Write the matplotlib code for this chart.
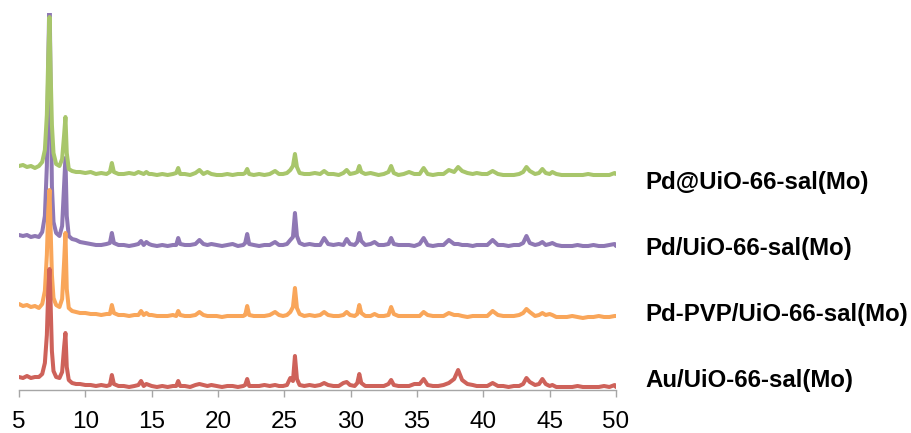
import numpy as np
import matplotlib.pyplot as plt

plt.rcParams['font.family'] = ['Liberation Sans', 'DejaVu Sans']

# 2-theta grid (deg) shared by all four patterns
two_theta = [
    5.0, 5.3, 5.6, 5.9, 6.2, 6.5, 6.75, 6.95, 7.1, 7.2,
    7.3, 7.38, 7.48, 7.6, 7.8, 8.05, 8.25, 8.4, 8.5, 8.6,
    8.75, 9.0, 9.3, 9.6, 10.0, 10.4, 10.8, 11.2, 11.6, 11.85,
    12.0, 12.15, 12.5, 12.9, 13.3, 13.7, 14.0, 14.2, 14.4, 14.6,
    14.8, 15.0, 15.4, 15.8, 16.2, 16.6, 16.85, 17.0, 17.15, 17.5,
    17.9, 18.3, 18.6, 18.9, 19.2, 19.5, 19.9, 20.3, 20.7, 21.1,
    21.5, 21.9, 22.05, 22.2, 22.35, 22.7, 23.1, 23.5, 23.9, 24.3,
    24.6, 24.9, 25.2, 25.45, 25.65, 25.8, 25.95, 26.15, 26.5, 26.9,
    27.3, 27.7, 28.0, 28.3, 28.7, 29.1, 29.45, 29.7, 29.95, 30.3,
    30.5, 30.65, 30.8, 31.1, 31.5, 31.8, 32.1, 32.5, 32.85, 33.05,
    33.25, 33.6, 34.0, 34.4, 34.8, 35.2, 35.5, 35.8, 36.2, 36.6,
    37.0, 37.4, 37.8, 38.1, 38.4, 38.8, 39.2, 39.5, 39.9, 40.3,
    40.7, 41.1, 41.5, 41.9, 42.3, 42.7, 43.0, 43.25, 43.5, 43.9,
    44.2, 44.45, 44.7, 45.0, 45.2, 45.5, 45.9, 46.3, 46.7, 47.1,
    47.5, 47.9, 48.3, 48.7, 49.1, 49.5, 49.9, 50.0,
]

pd_at = [
    9, 10, 8, 9, 7, 9, 13, 25, 60, 115,
    158, 105, 50, 22, 11, 9, 16, 40, 58, 22,
    6, 4, 3, 3, 2, 3, 1, 2, 1, 3,
    12, 3, 1, 1, 2, 1, 3, 2, 1, 3,
    1, 1, 0, 1, 0, 1, 2, 7, 1, 1,
    0, 2, 5, 1, 3, 1, 0, 0, 1, 0,
    1, 1, 2, 6, 1, 0, 1, 0, 1, 4,
    1, 1, 2, 5, 9, 21, 8, 2, 1, 1,
    2, 1, 4, 1, 1, 0, 2, 5, 1, 2,
    3, 9, 3, 1, 2, 1, 0, 1, 3, 9,
    2, 0, 1, 3, 1, 1, 7, 1, 0, 1,
    1, 5, 3, 8, 4, 2, 1, 2, 1, 1,
    4, 1, 0, 0, 0, 1, 3, 8, 4, 1,
    2, 6, 2, 1, 3, 1, 0, 0, 0, 0,
    0, 1, 0, 0, 0, 0, 2, 1,
]

pd_on = [
    11, 10, 11, 9, 10, 9, 14, 30, 80, 175,
    260, 160, 60, 24, 13, 10, 20, 60, 88, 30,
    10, 7, 6, 4, 3, 2, 1, 1, 2, 3,
    13, 3, 1, 1, 0, 1, 2, 5, 1, 4,
    2, 1, 0, 1, 0, 1, 1, 8, 2, 1,
    1, 2, 6, 2, 1, 2, 1, 0, 1, 2,
    0, 1, 3, 12, 2, 1, 0, 1, 1, 4,
    1, 1, 2, 6, 9, 33, 10, 3, 1, 2,
    1, 1, 8, 2, 1, 2, 1, 7, 2, 1,
    4, 13, 5, 1, 2, 4, 1, 1, 2, 8,
    2, 1, 1, 1, 0, 2, 8, 1, 0, 1,
    1, 6, 2, 2, 1, 1, 0, 1, 1, 1,
    6, 1, 1, 0, 1, 1, 3, 10, 3, 1,
    2, 4, 1, 2, 3, 1, 0, 0, 0, 1,
    0, 0, 1, 0, 0, 1, 2, 0,
]

pd_pvp = [
    13, 11, 12, 10, 11, 9, 13, 26, 62, 105,
    127, 90, 42, 19, 12, 10, 18, 55, 84, 28,
    9, 6, 5, 4, 4, 3, 3, 2, 3, 3,
    12, 4, 2, 2, 1, 2, 2, 6, 2, 4,
    2, 2, 1, 1, 1, 2, 1, 6, 2, 1,
    1, 2, 5, 2, 1, 1, 1, 0, 1, 1,
    1, 1, 2, 11, 2, 1, 1, 1, 2, 5,
    2, 1, 2, 5, 10, 29, 9, 3, 1, 2,
    1, 2, 5, 2, 1, 1, 2, 5, 2, 1,
    3, 12, 4, 1, 1, 3, 1, 1, 2, 10,
    3, 1, 1, 1, 1, 1, 5, 2, 1, 1,
    1, 4, 2, 2, 1, 0, 1, 1, 1, 1,
    6, 2, 1, 1, 1, 2, 4, 8, 5, 1,
    2, 4, 2, 3, 2, 0, 0, 0, 1, 0,
    -1, 0, 0, 1, 0, 0, 1, 1,
]

au_on = [
    10, 9, 11, 9, 10, 10, 13, 24, 52, 95,
    118, 85, 36, 16, 10, 9, 15, 40, 54, 20,
    7, 4, 3, 3, 2, 2, 1, 2, 1, 2,
    12, 3, 1, 1, 0, 1, 2, 6, 1, 3,
    2, 1, 0, 1, 0, 1, 1, 6, 1, 1,
    0, 2, 3, 2, 1, 2, 1, 0, 1, 1,
    0, 1, 2, 8, 1, 1, 1, 2, 1, 2,
    1, 1, 2, 9, 6, 31, 8, 2, 1, 2,
    1, 2, 4, 2, 1, 1, 4, 5, 2, 1,
    4, 13, 4, 1, 1, 1, 1, 1, 3, 7,
    2, 1, 1, 1, 3, 3, 8, 2, 1, 1,
    2, 4, 8, 17, 7, 3, 2, 1, 1, 1,
    4, 1, 1, 0, 1, 1, 3, 9, 5, 2,
    3, 8, 3, 1, 2, 0, 0, 0, 0, 1,
    0, 0, 0, 0, 1, 0, 2, 0,
]

labels = ['Pd@UiO-66-sal(Mo)', 'Pd/UiO-66-sal(Mo)',
          'Pd-PVP/UiO-66-sal(Mo)', 'Au/UiO-66-sal(Mo)']
offsets = [212, 141, 70, 0]
colors = ['#A8C66B', '#8F78B4', '#F9A65A', '#CE625A']
label_y = [182, 248, 315, 380]  # pixel rows of the side labels

fig = plt.figure(figsize=(9.11, 4.33), dpi=100)
ax = fig.add_axes([19/911, 43/433, 597/911, 377/433])

x = np.array(two_theta)
series = [pd_at, pd_on, pd_pvp, au_on]
# purple underneath, green on top
for i in (1, 2, 3, 0):
    ax.plot(x, np.array(series[i]) + offsets[i], color=colors[i],
            lw=2.9, solid_joinstyle='round', solid_capstyle='round')

ax.set_xlim(5, 50)
ax.set_ylim(-3, 374)
ax.set_xticks(np.arange(5, 51, 5))
ax.set_yticks([])
for s in ('left', 'right', 'top'):
    ax.spines[s].set_visible(False)
ax.spines['bottom'].set_color('#A6A6A6')
ax.spines['bottom'].set_linewidth(1.0)
ax.tick_params(axis='x', direction='out', length=5, width=1.0,
               color='#A6A6A6', labelsize=17.5, pad=10)

for lab, py in zip(labels, label_y):
    fig.text(645/911, 1 - py/433, lab, fontsize=17.3, fontweight='bold',
             va='center', ha='left')

fig.savefig('out.png', dpi=100)
